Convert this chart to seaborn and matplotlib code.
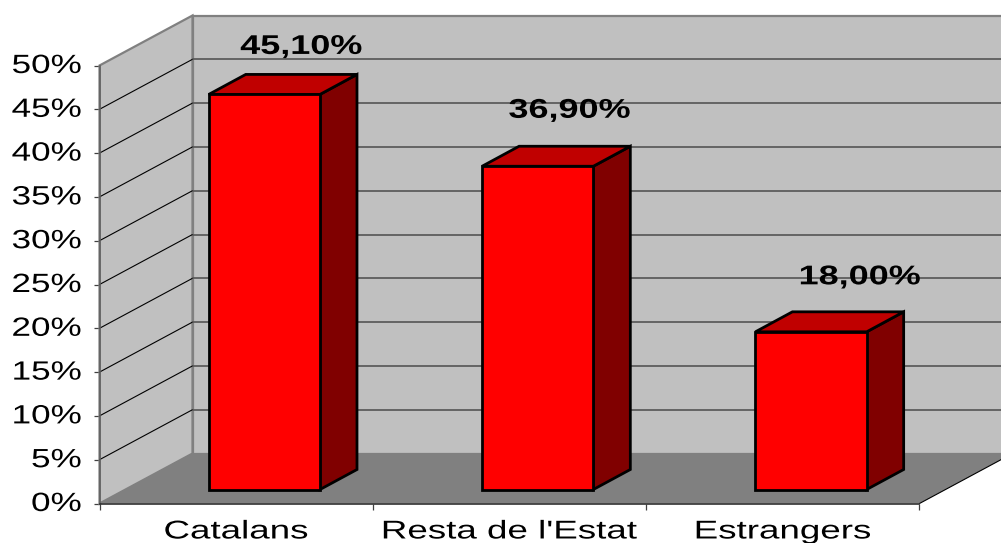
import matplotlib
matplotlib.use("Agg")
import matplotlib.pyplot as plt
import seaborn as sns
from matplotlib.patches import Polygon
from matplotlib.transforms import Affine2D, IdentityTransform
from matplotlib.patheffects import AbstractPathEffect

categories = ["Catalans", "Resta de l'Estat", "Estrangers"]
values = [45.1, 36.9, 18.0]
value_labels = ["45,10%", "36,90%", "18,00%"]
y_ticks = [0, 5, 10, 15, 20, 25, 30, 35, 40, 45, 50]
y_tick_labels = [f"{v}%" for v in y_ticks]

W, H = 1001, 543
LEFT, RIGHT, BOTTOM, TOP = 99.5, 919.5, 503.5, 65.5
WALL_DX, WALL_DY = 93, 50      # depth of the chart box, px
BAR_DX, BAR_DY = 28.2, 14      # where the bars stand inside the box, px
BAR_DEPTH_X, BAR_DEPTH_Y = 37, 20
LABEL_SHIFT = [(37, 47.5), (32, 55.5), (49, 54.5)]


class Stretch(AbstractPathEffect):
    """Draw real text wider, as the stretched picture shows it."""
    def __init__(self, sx, anchor="center", dy=0):
        super().__init__()
        self.sx, self.anchor, self.dy = sx, anchor, dy

    def draw_path(self, renderer, gc, tpath, affine, rgbFace=None):
        box = tpath.get_extents(affine)
        cx = box.x1 if self.anchor == "right" else 0.5 * (box.x0 + box.x1)
        t = affine + Affine2D().translate(-cx, 0).scale(self.sx, 1).translate(cx, self.dy)
        renderer.draw_path(gc, tpath, t, rgbFace)


sns.set_theme(style="white")
plt.rcParams["font.family"] = ["Liberation Sans", "DejaVu Sans"]

fig = plt.figure(figsize=(W / 100, H / 100), dpi=100, facecolor="white")
ax = fig.add_axes([LEFT / W, (H - BOTTOM) / H, (RIGHT - LEFT) / W, (BOTTOM - TOP) / H])
ax.patch.set_visible(False)

sns.barplot(x=categories, y=values, ax=ax, width=0.407, color="#ff0000", saturation=1,
            edgecolor="black", linewidth=2, zorder=5)
ax.set_xlim(-0.5, 2.5)
ax.set_ylim(0, 50)


def disp(x, y, dx=0, dy=0):
    px, py = ax.transData.transform((x, y))
    return (px + dx, py + dy)


def poly(points, **kw):
    ax.add_patch(Polygon(points, closed=True, transform=IdentityTransform(),
                         clip_on=False, **kw))


# chart box
xl, xr = -0.5, 2.5
poly([disp(xl, 50, WALL_DX, WALL_DY), disp(xr, 50, WALL_DX, WALL_DY),
      disp(xr, 0, WALL_DX, WALL_DY), disp(xl, 0, WALL_DX, WALL_DY)],
     facecolor="#c0c0c0", edgecolor="#808080", linewidth=1.6, zorder=1)
poly([disp(xl, 50), disp(xl, 50, WALL_DX, WALL_DY),
      disp(xl, 0, WALL_DX, WALL_DY), disp(xl, 0)],
     facecolor="#c0c0c0", edgecolor="#808080", linewidth=1.6, zorder=1.1)
poly([disp(xl, 0), disp(xl, 0, WALL_DX, WALL_DY),
      disp(xr, 0, WALL_DX, WALL_DY), disp(xr, 0)],
     facecolor="#808080", edgecolor="none", zorder=1.2)
ax.plot(*zip(disp(xr, 0), disp(xr, 0, WALL_DX, WALL_DY)), transform=IdentityTransform(),
        color="black", lw=0.8, clip_on=False, zorder=1.3)

# gridlines (the 50% level is the top edge of the box)
for v in y_ticks[1:-1]:
    a, b = disp(xl, v), disp(xl, v, WALL_DX, WALL_DY)
    c = disp(xr, v, WALL_DX, WALL_DY)
    ax.plot(*zip(a, b), transform=IdentityTransform(), color="black", lw=0.8,
            clip_on=False, zorder=2)
    ax.plot(*zip(b, c), transform=IdentityTransform(), color="#555555", lw=1.2,
            clip_on=False, zorder=2)

# bars: front faces come from seaborn, the sides follow from their geometry
shift = ax.transData + Affine2D().translate(BAR_DX, BAR_DY)
front_bars = list(ax.containers[0])
for bar, text, (lx, ly) in zip(front_bars, value_labels, LABEL_SHIFT):
    bar.set_transform(shift)
    bar.set_clip_on(False)
    x0, x1, top = bar.get_x(), bar.get_x() + bar.get_width(), bar.get_height()
    dx0, dy0 = BAR_DX, BAR_DY
    dx1, dy1 = BAR_DX + BAR_DEPTH_X, BAR_DY + BAR_DEPTH_Y
    poly([disp(x1, 0, dx0, dy0), disp(x1, 0, dx1, dy1),
          disp(x1, top, dx1, dy1), disp(x1, top, dx0, dy0)],
         facecolor="#800000", edgecolor="black", linewidth=2, joinstyle="miter", zorder=4)
    poly([disp(x0, top, dx0, dy0), disp(x1, top, dx0, dy0),
          disp(x1, top, dx1, dy1), disp(x0, top, dx1, dy1)],
         facecolor="#c00000", edgecolor="black", linewidth=2, joinstyle="miter", zorder=4)
    px, py = disp(0.5 * (x0 + x1), top, dx0 + lx, dy0 + ly)
    ax.text(px, py, text, transform=IdentityTransform(), ha="center", va="center",
            fontsize=19.5, fontweight="bold", color="black", clip_on=False, zorder=6,
            path_effects=[Stretch(1.33)])

# axes
for name in ("top", "right"):
    ax.spines[name].set_visible(False)
ax.spines["left"].set_color("#606060")
ax.spines["left"].set_linewidth(1.2)
ax.spines["bottom"].set_color("#303030")
ax.spines["bottom"].set_linewidth(1.2)
for s in ax.spines.values():
    s.set_zorder(3)

ax.set_yticks(y_ticks, labels=y_tick_labels)
ax.tick_params(axis="y", length=4.5, width=0.9, color="#404040", pad=8.5, left=True,
               labelsize=19, labelcolor="black")
for t in ax.get_yticklabels():
    t.set_path_effects([Stretch(1.33, "right", dy=2)])

ax.set_xticks([-0.5, 0.5, 1.5, 2.5], labels=[])
ax.set_xticks([0, 1, 2], labels=categories, minor=True)
ax.tick_params(axis="x", which="major", length=4.5, width=0.9, color="#404040", bottom=True)
ax.tick_params(axis="x", which="minor", length=0, pad=11.5, labelsize=18.5, labelcolor="black")
for t in ax.get_xticklabels(minor=True):
    t.set_path_effects([Stretch(1.43)])
ax.set_xlabel("")
ax.set_ylabel("")

fig.savefig("out.png", dpi=100, facecolor="white")
